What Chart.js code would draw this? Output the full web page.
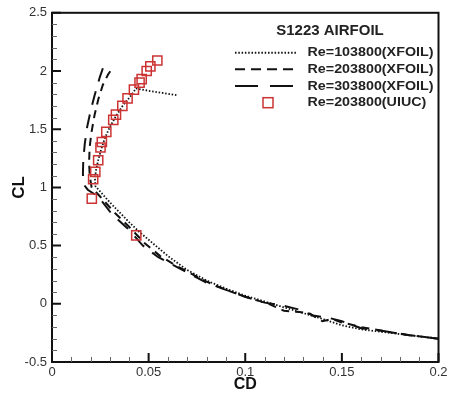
<!DOCTYPE html>
<html lang="en">
<head>
<meta charset="UTF-8">
<title>S1223 airfoil polar</title>
<script src="https://cdn.jsdelivr.net/npm/chart.js@4/dist/chart.umd.min.js"></script>
<style>
  html, body { margin: 0; padding: 0; background: #fff; }
  #wrap { width: 454px; height: 394px; }
</style>
</head>
<body>
<div id="wrap"><canvas id="myChart" width="454" height="394"></canvas></div>
<script>
// tick values and labels
const xTicks = [0, 0.05, 0.1, 0.15, 0.2];
const xTickLabels = ['0', '0.05', '0.1', '0.15', '0.2'];
const yTicks = [-0.5, 0, 0.5, 1, 1.5, 2, 2.5];
const yTickLabels = ['-0.5', '0', '0.5', '1', '1.5', '2', '2.5'];

const seriesNames = ['Re=103800(XFOIL)', 'Re=203800(XFOIL)', 'Re=303800(XFOIL)', 'Re=203800(UIUC)'];

// Re=103800 XFOIL (dotted)
const cd103 = [0.200, 0.180, 0.160, 0.150, 0.140, 0.130, 0.120, 0.110, 0.100, 0.090, 0.080, 0.070, 0.060, 0.050, 0.045, 0.040, 0.030, 0.0225,
               0.0222, 0.0228, 0.0240, 0.0255, 0.0275, 0.0300, 0.0330, 0.0365, 0.0400, 0.0435, 0.0500, 0.0580, 0.0650];
const cl103 = [-0.30, -0.26, -0.22, -0.185, -0.13, -0.08, -0.03, 0.02, 0.07, 0.13, 0.20, 0.29, 0.41, 0.55, 0.62, 0.70, 0.87, 1.01,
               1.08, 1.15, 1.24, 1.33, 1.43, 1.52, 1.61, 1.70, 1.77, 1.85, 1.83, 1.81, 1.79];

// Re=203800 XFOIL (dashed)
const cd203 = [0.200, 0.185, 0.170, 0.160, 0.150, 0.145, 0.140, 0.133, 0.128, 0.120, 0.112, 0.100, 0.090, 0.080, 0.072, 0.064, 0.056, 0.048, 0.040, 0.032, 0.025, 0.0205,
               0.0195, 0.0192, 0.0195, 0.0205, 0.0220, 0.0240, 0.0263, 0.0290, 0.0320];
const cl203 = [-0.30, -0.27, -0.23, -0.20, -0.16, -0.13, -0.15, -0.08, -0.07, -0.06, 0.00, 0.06, 0.12, 0.19, 0.26, 0.33, 0.41, 0.52, 0.66, 0.79, 0.92, 1.00,
               1.10, 1.22, 1.35, 1.48, 1.62, 1.76, 1.88, 1.97, 2.04];

// Re=303800 XFOIL (long dash)
const cd303 = [0.200, 0.185, 0.170, 0.160, 0.150, 0.143, 0.135, 0.128, 0.118, 0.110, 0.100, 0.090, 0.080, 0.071, 0.062, 0.055, 0.047, 0.039, 0.031, 0.024, 0.0185, 0.0162,
               0.0160, 0.0162, 0.0170, 0.0182, 0.0200, 0.0222, 0.0248, 0.0275];
const cl303 = [-0.30, -0.27, -0.23, -0.21, -0.15, -0.12, -0.10, -0.05, -0.01, 0.01, 0.06, 0.12, 0.18, 0.26, 0.34, 0.40, 0.50, 0.65, 0.77, 0.92, 0.98, 1.03,
               1.12, 1.24, 1.38, 1.52, 1.66, 1.80, 1.95, 2.08];

// Re=203800 UIUC experiment (squares)
const cdUiuc = [0.0436, 0.0206, 0.0213, 0.0224, 0.0239, 0.0251, 0.0258, 0.0281, 0.0317, 0.0331, 0.0364, 0.0391, 0.0424, 0.0453, 0.0464, 0.0490, 0.0509, 0.0545];
const clUiuc = [0.588, 0.903, 1.07, 1.133, 1.233, 1.343, 1.39, 1.477, 1.58, 1.625, 1.70, 1.764, 1.84, 1.90, 1.93, 2.00, 2.04, 2.09];

const pts = (xs, ys) => xs.map((x, i) => ({x: x, y: ys[i]}));

// frame + inward ticks
const frameTicks = {
  id: 'frameTicks',
  afterDraw(chart) {
    const ctx = chart.ctx, a = chart.chartArea;
    const xs = chart.scales.x, ys = chart.scales.y;
    ctx.save();
    ctx.strokeStyle = '#111';
    ctx.lineWidth = 2;
    ctx.strokeRect(a.left, a.top, a.right - a.left, a.bottom - a.top);
    // minor ticks
    ctx.lineWidth = 1;
    ctx.strokeStyle = '#666';
    ctx.beginPath();
    for (let i = 1; i < 30; i++) {
      const v = -0.5 + i * 0.1;
      if (i % 5 === 0) continue;
      const y = Math.round(ys.getPixelForValue(v)) + 0.5;
      ctx.moveTo(a.left, y); ctx.lineTo(a.left + 5, y);
    }
    for (let i = 1; i < 20; i++) {
      if (i % 5 === 0) continue;
      const x = Math.round(xs.getPixelForValue(i * 0.01)) + 0.5;
      ctx.moveTo(x, a.bottom); ctx.lineTo(x, a.bottom - 5);
    }
    ctx.stroke();
    // major ticks
    ctx.lineWidth = 2;
    ctx.strokeStyle = '#111';
    ctx.beginPath();
    yTicks.forEach(v => {
      const y = ys.getPixelForValue(v);
      ctx.moveTo(a.left, y); ctx.lineTo(a.left + 9, y);
    });
    xTicks.forEach(v => {
      const x = xs.getPixelForValue(v);
      ctx.moveTo(x, a.bottom); ctx.lineTo(x, a.bottom - 9);
    });
    ctx.stroke();
    ctx.restore();
  }
};

// legend drawn inside the plot, top right
const boxLegend = {
  id: 'boxLegend',
  afterDraw(chart) {
    const ctx = chart.ctx;
    ctx.save();
    ctx.fillStyle = '#222';
    ctx.textBaseline = 'middle';
    ctx.textAlign = 'center';
    ctx.font = 'bold 15px "Liberation Sans", Arial, sans-serif';
    ctx.fillText('S1223 AIRFOIL', 330, 31);
    ctx.textAlign = 'left';
    ctx.font = 'bold 13px "Liberation Sans", Arial, sans-serif';
    const rowY = [52.7, 69.3, 86, 102.7];
    const dashes = [[1.5, 1.8], [10, 6], [23, 12]];
    chart.data.datasets.forEach((ds, i) => {
      const y = rowY[i];
      if (i < 3) {
        ctx.strokeStyle = '#111';
        ctx.lineWidth = 2;
        ctx.setLineDash(dashes[i]);
        ctx.beginPath();
        ctx.moveTo(235, y); ctx.lineTo(i === 0 ? 296 : 293, y);
        ctx.stroke();
        ctx.setLineDash([]);
      } else {
        ctx.strokeStyle = ds.borderColor;
        ctx.lineWidth = 1.5;
        ctx.strokeRect(263, y - 5, 10, 10);
      }
      // reference text is a little wider than the font: stretch it sideways
      ctx.save();
      ctx.translate(307.5, y);
      ctx.scale(1.1, 1);
      ctx.fillStyle = '#222';
      ctx.fillText(ds.label, 0, 0);
      ctx.restore();
    });
    ctx.restore();
  }
};

const ctx = document.getElementById('myChart').getContext('2d');
const myChart = new Chart(ctx, {
  type: 'scatter',
  data: {
    datasets: [
      { label: seriesNames[0], data: pts(cd103, cl103), showLine: true, borderColor: '#111', borderWidth: 1.8,
        borderDash: [1.5, 1.8], pointRadius: 0, tension: 0, order: 2 },
      { label: seriesNames[1], data: pts(cd203, cl203), showLine: true, borderColor: '#111', borderWidth: 2,
        borderDash: [8, 6], pointRadius: 0, tension: 0, order: 3 },
      { label: seriesNames[2], data: pts(cd303, cl303), showLine: true, borderColor: '#111', borderWidth: 2,
        borderDash: [14, 10], pointRadius: 0, tension: 0, order: 4 },
      { label: seriesNames[3], data: pts(cdUiuc, clUiuc), showLine: false, borderColor: '#cc3333',
        backgroundColor: 'rgba(0,0,0,0)', borderWidth: 1.5, pointStyle: 'rect', pointRadius: 6.5, order: 1 }
    ]
  },
  options: {
    responsive: false,
    animation: false,
    layout: { padding: { left: 0, right: 15.5, top: 10.5, bottom: 0 } },
    plugins: { legend: { display: false }, tooltip: { enabled: false } },
    scales: {
      x: {
        type: 'linear', min: 0, max: 0.2,
        afterBuildTicks: s => { s.ticks = xTicks.map(v => ({value: v})); },
        afterFit: s => { s.height = 32; },
        grid: { display: false, drawTicks: false },
        border: { display: false },
        ticks: { padding: 3, color: '#333', font: { size: 13, family: '"Liberation Sans", Arial, sans-serif' },
                 callback: (v, i) => xTickLabels[i] },
        title: { display: true, text: 'CD', color: '#111', padding: { top: 0, bottom: 0 },
                 font: { size: 16, weight: 'bold', family: '"Liberation Sans", Arial, sans-serif' } }
      },
      y: {
        type: 'linear', min: -0.5, max: 2.5,
        afterBuildTicks: s => { s.ticks = yTicks.map(v => ({value: v})); },
        afterFit: s => { s.width = 52; },
        grid: { display: false, drawTicks: false },
        border: { display: false },
        ticks: { padding: 5, color: '#333', font: { size: 13, family: '"Liberation Sans", Arial, sans-serif' },
                 callback: (v, i) => yTickLabels[i] },
        title: { display: true, text: 'CL', color: '#111', padding: { top: 9, bottom: 0 },
                 font: { size: 17, weight: 'bold', family: '"Liberation Sans", Arial, sans-serif' } }
      }
    }
  },
  plugins: [frameTicks, boxLegend]
});
</script>
</body>
</html>
